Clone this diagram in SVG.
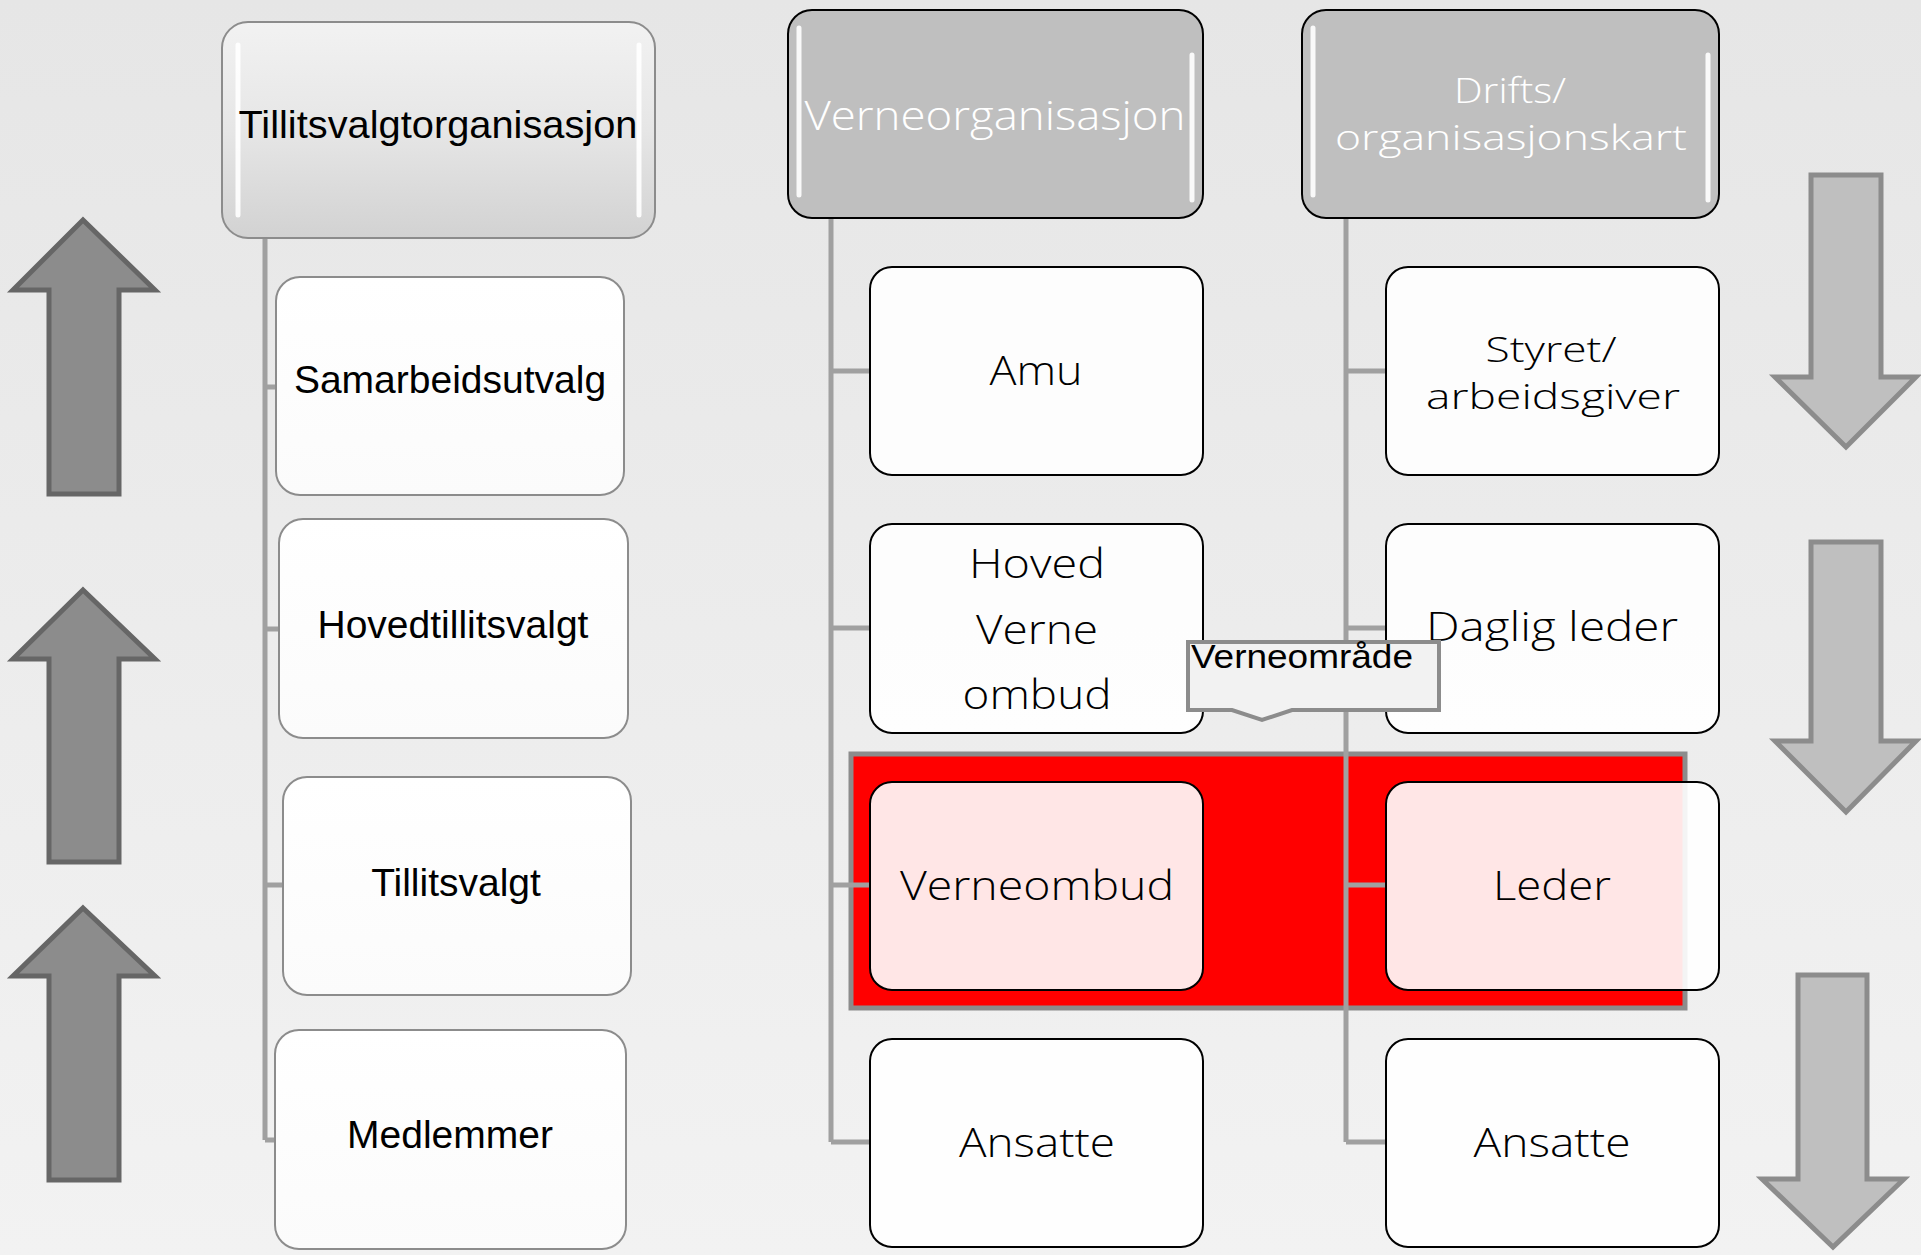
<svg xmlns="http://www.w3.org/2000/svg" width="1921" height="1255" viewBox="0 0 1921 1255">
<defs>
<linearGradient id="bg" x1="0" y1="0" x2="0" y2="1"><stop offset="0" stop-color="#e6e6e6"/><stop offset="1" stop-color="#f2f2f2"/></linearGradient>
<linearGradient id="gloss" x1="0" y1="0" x2="0" y2="1"><stop offset="0" stop-color="#f2f2f2"/><stop offset="0.5" stop-color="#e6e6e6"/><stop offset="1" stop-color="#d2d2d2"/></linearGradient>
<linearGradient id="wbox" x1="0" y1="0" x2="0" y2="1"><stop offset="0" stop-color="#ffffff"/><stop offset="1" stop-color="#fbfbfb"/></linearGradient>
<style>
.lhead{fill:url(#gloss);stroke:#8c8c8c;stroke-width:2}
.lbox{fill:url(#wbox);stroke:#8c8c8c;stroke-width:2}
.hl{fill:none;stroke:#ffffff;stroke-width:5;stroke-linecap:round;opacity:0.9}
.ghead{fill:#bfbfbf;stroke:#000;stroke-width:2}
.box{fill:#ffffff;fill-opacity:0.9;stroke:#000;stroke-width:2}
.conn{fill:none;stroke:#a0a0a0;stroke-width:5}
.ta{font-family:"Liberation Sans",Arial,sans-serif;font-size:39px;fill:#000;text-anchor:middle}
.tg{font-family:"Open Sans","Noto Sans",sans-serif;font-weight:300;font-size:40px;fill:#000;text-anchor:middle}
.tw{font-family:"Open Sans","Noto Sans",sans-serif;font-weight:300;font-size:40px;fill:#fff;text-anchor:middle}
.two{font-size:34px}
.up{fill:#8c8c8c;stroke:#666;stroke-width:5}
.down{fill:#bfbfbf;stroke:#8c8c8c;stroke-width:5}
</style>
</defs>
<rect x="0" y="0" width="1921" height="1255" fill="url(#bg)"/>

<g id="arrows">
<polygon class="up" points="83,220 155,290 119,290 119,494 49,494 49,290 13,290"/>
<polygon class="up" points="83,590 155,659 119,659 119,862 49,862 49,659 13,659"/>
<polygon class="up" points="83,908 155,976 119,976 119,1180 49,1180 49,976 13,976"/>
<polygon class="down" points="1811,175 1881,175 1881,377 1916,377 1846,447 1775,377 1811,377"/>
<polygon class="down" points="1811,542 1881,542 1881,741 1916,741 1846,812 1775,741 1811,741"/>
<polygon class="down" points="1798,975 1867,975 1867,1179 1904,1179 1833,1247 1762,1179 1798,1179"/>
</g>

<rect id="verneomrade-area" x="851" y="754" width="834" height="254" fill="#ff0000" stroke="#8c8c8c" stroke-width="5"/>

<g id="connectors">
<path class="conn" d="M265,238 V1140 M265,387 H277 M265,629 H280 M265,885 H284 M265,1140 H276"/>
<path class="conn" d="M831,218 V1142 M831,371 H871 M831,628 H871 M831,885 H871 M831,1142 H871"/>
<path class="conn" d="M1346,218 V1142 M1346,371 H1387 M1346,628 H1387 M1346,885 H1387 M1346,1142 H1387"/>
</g>

<g id="n-tillitsvalgtorganisasjon">
<rect class="lhead" x="222" y="22" width="433" height="216" rx="26"/>
<path class="hl" d="M238,45 V215 M639,45 V215"/>
<text class="ta" x="438" y="138" textLength="399" lengthAdjust="spacingAndGlyphs">Tillitsvalgtorganisasjon</text>
</g>
<g id="n-samarbeidsutvalg">
<rect class="lbox" x="276" y="277" width="348" height="218" rx="24"/>
<text class="ta" x="450" y="393">Samarbeidsutvalg</text>
</g>
<g id="n-hovedtillitsvalgt">
<rect class="lbox" x="279" y="519" width="349" height="219" rx="24"/>
<text class="ta" x="453" y="638">Hovedtillitsvalgt</text>
</g>
<g id="n-tillitsvalgt">
<rect class="lbox" x="283" y="777" width="348" height="218" rx="24"/>
<text class="ta" x="456" y="896">Tillitsvalgt</text>
</g>
<g id="n-medlemmer">
<rect class="lbox" x="275" y="1030" width="351" height="219" rx="24"/>
<text class="ta" x="450" y="1148">Medlemmer</text>
</g>

<g id="n-verneorganisasjon">
<rect class="ghead" x="788" y="10" width="415" height="208" rx="24"/>
<path class="hl" d="M799,28 V195 M1192,55 V200"/>
<text class="tw" x="995" y="130" textLength="381" lengthAdjust="spacingAndGlyphs">Verneorganisasjon</text>
</g>
<g id="n-drifts">
<rect class="ghead" x="1302" y="10" width="417" height="208" rx="24"/>
<path class="hl" d="M1313,28 V195 M1708,55 V200"/>
<text class="tw two" x="1510" y="103" textLength="112" lengthAdjust="spacingAndGlyphs">Drifts/</text>
<text class="tw two" x="1511" y="150" textLength="352" lengthAdjust="spacingAndGlyphs">organisasjonskart</text>
</g>

<g id="n-amu">
<rect class="box" x="870" y="267" width="333" height="208" rx="22"/>
<text class="tg" x="1036" y="385" textLength="93" lengthAdjust="spacingAndGlyphs">Amu</text>
</g>
<g id="n-hovedverneombud">
<rect class="box" x="870" y="524" width="333" height="209" rx="22"/>
<text class="tg" x="1037" y="578" textLength="136" lengthAdjust="spacingAndGlyphs">Hoved</text>
<text class="tg" x="1037" y="644" textLength="122" lengthAdjust="spacingAndGlyphs">Verne</text>
<text class="tg" x="1037" y="709" textLength="149" lengthAdjust="spacingAndGlyphs">ombud</text>
</g>
<g id="n-verneombud">
<rect class="box" x="870" y="782" width="333" height="208" rx="22"/>
<text class="tg" x="1037" y="900" textLength="274" lengthAdjust="spacingAndGlyphs">Verneombud</text>
</g>
<g id="n-ansatte1">
<rect class="box" x="870" y="1039" width="333" height="208" rx="22"/>
<text class="tg" x="1037" y="1157" textLength="156" lengthAdjust="spacingAndGlyphs">Ansatte</text>
</g>

<g id="n-styret">
<rect class="box" x="1386" y="267" width="333" height="208" rx="22"/>
<text class="tg two" x="1551" y="362" textLength="131" lengthAdjust="spacingAndGlyphs">Styret/</text>
<text class="tg two" x="1553" y="409" textLength="254" lengthAdjust="spacingAndGlyphs">arbeidsgiver</text>
</g>
<g id="n-dagligleder">
<rect class="box" x="1386" y="524" width="333" height="209" rx="22"/>
<text class="tg" x="1552" y="641" textLength="252" lengthAdjust="spacingAndGlyphs">Daglig leder</text>
</g>
<g id="n-leder">
<rect class="box" x="1386" y="782" width="333" height="208" rx="22"/>
<text class="tg" x="1552" y="900" textLength="118" lengthAdjust="spacingAndGlyphs">Leder</text>
</g>
<g id="n-ansatte2">
<rect class="box" x="1386" y="1039" width="333" height="208" rx="22"/>
<text class="tg" x="1552" y="1157" textLength="157" lengthAdjust="spacingAndGlyphs">Ansatte</text>
</g>

<g id="n-verneomrade-callout">
<path d="M1188,642 H1439 V710 H1292 L1262,720 L1232,710 H1188 Z" fill="#f2f2f2" stroke="#8c8c8c" stroke-width="4"/>
<text x="1191" y="668" font-family="'Liberation Sans',Arial,sans-serif" font-size="34" fill="#000" textLength="222" lengthAdjust="spacingAndGlyphs">Verneområde</text>
</g>
</svg>
